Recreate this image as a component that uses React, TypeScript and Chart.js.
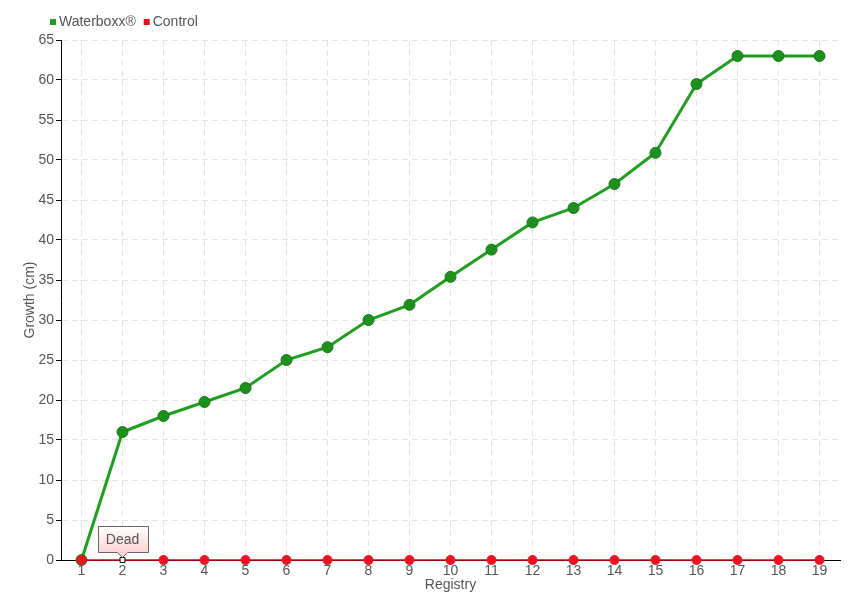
import React, { useEffect, useRef } from "react";
import { Chart, registerables } from "chart.js";

Chart.register(...registerables);

const categories = ["1", "2", "3", "4", "5", "6", "7", "8", "9", "10", "11", "12", "13", "14", "15", "16", "17", "18", "19"];
const waterboxx = [0, 16, 18, 19.75, 21.5, 25, 26.6, 30, 31.9, 35.4, 38.8, 42.2, 44, 47, 50.9, 59.5, 63, 63, 63];
const control = [0, 0, 0, 0, 0, 0, 0, 0, 0, 0, 0, 0, 0, 0, 0, 0, 0, 0, 0];
const seriesNames = ["Waterboxx®", "Control"];
const seriesColors = ["#1ea01e", "#ee1122"];
const annotationIndex = 1;
const annotationText = "Dead";

const FONT = "'Liberation Sans', Arial, sans-serif";
const TXT = "#555";

const annotationPlugin = {
  id: "deadNote",
  afterDatasetsDraw(chart: any) {
    const ctx = chart.ctx;
    const x = chart.scales.x.getPixelForValue(annotationIndex);
    const y = chart.scales.y.getPixelForValue(control[annotationIndex]);
    const w = 50, h = 26;
    const bx = Math.round(x - 25), by = Math.round(y - 8 - h);
    ctx.save();
    const g = ctx.createLinearGradient(0, by, 0, by + h);
    g.addColorStop(0, "#ffffff");
    g.addColorStop(1, "#fcd4d4");
    ctx.beginPath();
    ctx.moveTo(bx + 0.5, by + 0.5);
    ctx.lineTo(bx + w + 0.5, by + 0.5);
    ctx.lineTo(bx + w + 0.5, by + h + 0.5);
    ctx.lineTo(x + 5, by + h + 0.5);
    ctx.lineTo(x, by + h + 5.5);
    ctx.lineTo(x - 5, by + h + 0.5);
    ctx.lineTo(bx + 0.5, by + h + 0.5);
    ctx.closePath();
    ctx.fillStyle = g;
    ctx.fill();
    ctx.strokeStyle = "#666";
    ctx.lineWidth = 1;
    ctx.stroke();
    ctx.fillStyle = TXT;
    ctx.font = `14px ${FONT}`;
    ctx.textAlign = "center";
    ctx.textBaseline = "middle";
    ctx.fillText(annotationText, x, by + h / 2 + 1);
    ctx.restore();
  },
};

const legendPlugin = {
  id: "customLegend",
  afterDraw(chart: any) {
    const ctx = chart.ctx;
    ctx.save();
    ctx.font = `14px ${FONT}`;
    ctx.textBaseline = "middle";
    ctx.textAlign = "left";
    let x = 50;
    const y = 22;
    seriesNames.forEach((name, i) => {
      ctx.fillStyle = seriesColors[i];
      ctx.fillRect(x, y - 3, 6, 6);
      ctx.fillStyle = TXT;
      ctx.fillText(name, x + 9, y);
      x += 9 + ctx.measureText(name).width + 8;
    });
    ctx.restore();
  },
};

export default function App() {
  const ref = useRef<HTMLCanvasElement | null>(null);
  useEffect(() => {
    document.body.style.margin = "0";
    const chart = new Chart(ref.current as HTMLCanvasElement, {
      type: "line",
      data: {
        labels: categories,
        datasets: [
          {
            label: seriesNames[0],
            data: waterboxx,
            borderColor: "#1ea01e",
            backgroundColor: "#1e901e",
            pointBackgroundColor: "#1e901e",
            pointBorderColor: "#187a18",
            borderWidth: 3,
            pointRadius: 5.5,
            pointBorderWidth: 1,
            tension: 0,
            clip: false,
            order: 1,
          },
          {
            label: seriesNames[1],
            data: control,
            borderColor: "#dd0011",
            backgroundColor: "#ee1122",
            pointBackgroundColor: (c: any) => (c.dataIndex === annotationIndex ? "#ffffff" : "#ee1122"),
            pointBorderColor: (c: any) => (c.dataIndex === annotationIndex ? "#000000" : "#ee1122"),
            pointStyle: (c: any) => (c.dataIndex === annotationIndex ? "rect" : "circle"),
            pointRadius: (c: any) => (c.dataIndex === annotationIndex ? 3.5 : 4.5),
            pointBorderWidth: 1,
            borderWidth: 1.5,
            tension: 0,
            clip: false,
            order: 0,
          },
        ],
      },
      options: {
        responsive: false,
        animation: false,
        layout: { padding: { left: 22, right: 20, top: 40, bottom: 6 } },
        plugins: {
          legend: { display: false },
          tooltip: { enabled: false },
        },
        scales: {
          x: {
            offset: true,
            grid: {
              offset: false,
              color: "#e4e4e4",
              drawTicks: false,
            },
            border: { color: "#000", width: 1, dash: [6, 4] },
            ticks: { color: TXT, font: { family: FONT, size: 14 }, padding: 3, maxRotation: 0 },
            title: { display: true, text: "Registry", color: TXT, font: { family: FONT, size: 14 }, padding: 0 },
            afterFit: (s: any) => { s.height = 34; },
          },
          y: {
            min: 0,
            max: 65,
            ticks: { stepSize: 5, color: TXT, font: { family: FONT, size: 14 }, padding: 2 },
            grid: { color: "#e4e4e4", tickColor: "#000", tickLength: 5 },
            border: { color: "#000", width: 1, dash: [6, 4] },
            title: { display: true, text: "Growth (cm)", color: TXT, font: { family: FONT, size: 14 }, padding: 0 },
            afterFit: (s: any) => { s.width = 39; },
          },
        },
      },
      plugins: [annotationPlugin, legendPlugin],
    } as any);
    return () => chart.destroy();
  }, []);
  return (
    <div style={{ position: "fixed", left: 0, top: 0, width: 860, height: 600 }}>
      <canvas ref={ref} width={860} height={600} />
    </div>
  );
}
